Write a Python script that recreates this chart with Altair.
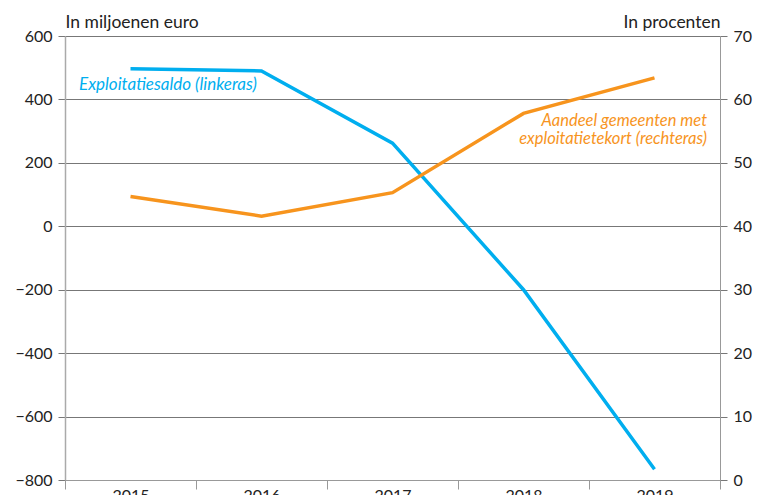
import altair as alt
import pandas as pd

years = ["2015", "2016", "2017", "2018", "2019"]
saldo = [497, 490, 262, -200, -766]          # in miljoenen euro (linkeras)
aandeel = [44.7, 41.6, 45.3, 57.8, 63.4]      # in procenten (rechteras)

left_ticks = [-800, -600, -400, -200, 0, 200, 400, 600]
right_ticks = [0, 10, 20, 30, 40, 50, 60, 70]

blue_label = "Exploitatiesaldo (linkeras)"
orange_label = ["Aandeel gemeenten met", "exploitatietekort (rechteras)"]

BLUE = "#00AEEF"
ORANGE = "#F7941D"
FONT = "Lato"

df = pd.DataFrame({"jaar": years, "saldo": saldo, "aandeel": aandeel})
blue_txt = pd.DataFrame({"jaar": ["2015"], "saldo": [444], "t": [blue_label]})
orange_txt = pd.DataFrame({"jaar": ["2019"], "aandeel": [56.6], "t": ["\n".join(orange_label)]})

x_scale = alt.Scale(type="band", domain=years, paddingInner=0, paddingOuter=0)
x_axis = alt.Axis(title=None, tickBand="extent", grid=False, domain=True,
                  domainColor="#999999", tickColor="#999999", tickSize=9,
                  labelAngle=0, labelPadding=-2, labelBaseline="top",
                  labelFontSize=16, labelColor="#222222", labelFont=FONT)

left_scale = alt.Scale(domain=[-800, 600], nice=False, zero=False)
left_axis = alt.Axis(values=left_ticks, title="In miljoenen euro", titleAngle=0,
                     titleAlign="left", titleX=0, titleY=-9, titleBaseline="alphabetic",
                     titleFontWeight="normal", titleFontSize=17.5, titleColor="#222222",
                     titleFont=FONT, labelFont=FONT, labelFontSize=16, labelColor="#222222",
                     labelPadding=6, tickSize=7, tickColor="#777777", grid=True,
                     gridColor="#777777", gridOpacity=1, gridWidth=1,
                     domain=True, domainColor="#aaaaaa", domainWidth=1.5)

right_scale = alt.Scale(domain=[0, 70], nice=False, zero=False)
right_axis = alt.Axis(values=right_ticks, orient="right", title="In procenten", titleAngle=0,
                      titleAlign="right", titleX=0, titleY=-9, titleBaseline="alphabetic",
                      titleFontWeight="normal", titleFontSize=17.5, titleColor="#222222",
                      titleFont=FONT, labelFont=FONT, labelFontSize=16, labelColor="#222222",
                      labelPadding=6, tickSize=7, tickColor="#777777", grid=False,
                      domain=True, domainColor="#999999", domainWidth=1)

blue_line = alt.Chart(df).mark_line(color=BLUE, strokeWidth=3.5).encode(
    x=alt.X("jaar:O", scale=x_scale, axis=x_axis, sort=years, bandPosition=0.5),
    y=alt.Y("saldo:Q", scale=left_scale, axis=left_axis),
)
blue_text = alt.Chart(blue_txt).mark_text(
    color=BLUE, font=FONT, fontSize=17, fontStyle="italic", align="left",
    baseline="middle", dx=14
).encode(
    x=alt.X("jaar:O", scale=x_scale, axis=x_axis, sort=years, bandPosition=0),
    y=alt.Y("saldo:Q", scale=left_scale, axis=left_axis),
    text="t:N",
)

orange_line = alt.Chart(df).mark_line(color=ORANGE, strokeWidth=3.5).encode(
    x=alt.X("jaar:O", scale=x_scale, axis=x_axis, sort=years, bandPosition=0.5),
    y=alt.Y("aandeel:Q", scale=right_scale, axis=right_axis),
)
orange_text = alt.Chart(orange_txt).mark_text(
    color=ORANGE, font=FONT, fontSize=16.5, fontStyle="italic", align="right",
    baseline="middle", dx=-13, lineBreak="\n", lineHeight=18
).encode(
    x=alt.X("jaar:O", scale=x_scale, axis=x_axis, sort=years, bandPosition=1),
    y=alt.Y("aandeel:Q", scale=right_scale, axis=right_axis),
    text="t:N",
)

left = alt.layer(blue_line, blue_text)
right = alt.layer(orange_line, orange_text)

chart = alt.layer(left, right).resolve_scale(y="independent").properties(
    width=655, height=444,
    autosize=alt.AutoSizeParams(type="none"),
    padding={"left": 57, "top": 28, "right": 50, "bottom": 15},
).configure_view(stroke=None)

chart.save("out.html", embed_options={"renderer": "svg", "actions": False})
